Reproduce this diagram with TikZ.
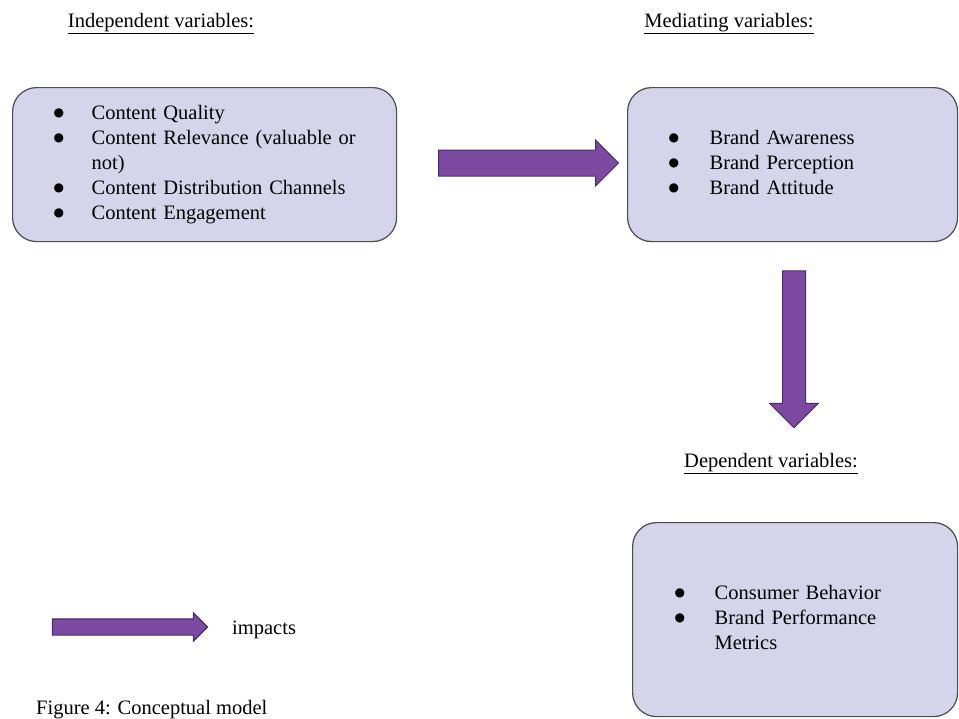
\documentclass[tikz,border=0pt]{standalone}
\usepackage{fontspec}
\setmainfont{Liberation Serif}
\newfontfamily\dotfont{DejaVu Sans}
\usetikzlibrary{shapes.arrows}

\definecolor{boxfill}{RGB}{214,212,234}
\definecolor{boxline}{RGB}{75,75,80}
\definecolor{arrowfill}{RGB}{124,75,161}
\definecolor{arrowline}{RGB}{70,45,110}

\newcommand\bul{\raisebox{3.5pt}{\dotfont\fontsize{12}{25}\selectfont ●}}

\begin{document}
\begin{tikzpicture}
  [x=1pt, y=-1pt,
   every node/.style={font=\fontsize{20.5}{25}\selectfont, inner sep=0pt},
   varbox/.style={draw=boxline, line width=1.2pt, fill=boxfill, rounded corners=24pt,
                  anchor=north west, align=left},
   heading/.style={anchor=base},
   fatarrow/.style={single arrow, draw=arrowline, line width=1pt, fill=arrowfill,
                    single arrow head indent=0pt, inner xsep=0pt}]
  \useasboundingbox (0,0) rectangle (959,718);

  % headings
  \node[heading] (indephead) at (161,27) {\underline{Independent variables:}};
  \node[heading] (medhead) at (729,27) {\underline{Mediating variables:}};
  \node[heading] (dephead) at (771,467) {\underline{Dependent variables:}};

  % boxes
  \node[varbox, minimum width=384pt, minimum height=154pt, text width=302pt,
        inner xsep=41pt] (indep) at (12,87)
    {\begin{tabular}{@{}p{38pt}@{}l@{}}
       \bul & Content Quality\\
       \bul & Content Relevance (valuable or\\
            & not)\\
       \bul & Content Distribution Channels\\
       \bul & Content Engagement
     \end{tabular}};
  \node[varbox, minimum width=330pt, minimum height=154pt, text width=290pt,
        inner xsep=20pt] (med) at (627,87)
    {\hspace*{21pt}\begin{tabular}{@{}p{41pt}@{}l@{}}
       \bul & Brand Awareness\\
       \bul & Brand Perception\\
       \bul & Brand Attitude
     \end{tabular}};
  \node[varbox, minimum width=325pt, minimum height=194pt, text width=285pt,
        inner xsep=20pt] (dep) at (632,522)
    {\hspace*{22pt}\begin{tabular}{@{}p{40pt}@{}l@{}}
       \bul & Consumer Behavior\\
       \bul & Brand Performance\\
            & Metrics
     \end{tabular}};

  % arrows between the boxes
  \node[fatarrow, minimum height=180pt, inner ysep=12.5pt,
        single arrow head extend=10pt] (toMed) at (522,163) {};
  \node[fatarrow, minimum height=157pt, inner sep=11pt,
        single arrow head extend=13pt, shape border rotate=270] (toDep) at (794,343.5) {};

  % legend
  \node[fatarrow, minimum height=155pt, inner ysep=7.5pt, single arrow head extend=6pt,
        line width=1.2pt] (legarrow) at (126,627) {};
  \node[anchor=base west] (legtext) at (232,634) {impacts};
  \node[anchor=base west] (caption) at (36,714) {Figure 4: Conceptual model};
\end{tikzpicture}
\end{document}
